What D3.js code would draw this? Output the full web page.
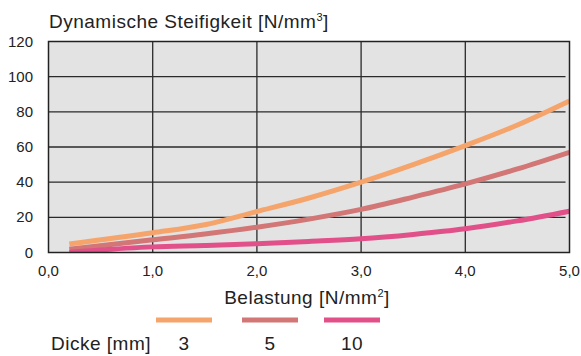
<!DOCTYPE html>
<html><head><meta charset="utf-8">
<script src="https://cdn.jsdelivr.net/npm/d3@7"></script>
<style>
html,body{margin:0;padding:0;background:#fff;}
text{font-family:"Liberation Sans",Arial,sans-serif;fill:#222;}
.big{font-size:19px;letter-spacing:0.5px;}
</style></head>
<body><svg id="c" width="581" height="356"></svg>
<script>
const xValues = [0.2, 1.0, 1.5, 2.0, 2.5, 3.0, 3.5, 4.0, 4.5, 5.0];
const series3 = [4.8, 11.2, 15.8, 23.3, 31.0, 40.0, 50.0, 60.8, 72.5, 86.2];
const series5 = [1.9, 7.2, 10.5, 14.4, 19.0, 24.5, 31.5, 39.0, 47.5, 57.0];
const series10 = [0.2, 3.2, 4.0, 5.0, 6.3, 7.8, 10.3, 13.5, 18.0, 23.5];
const seriesNames = ["3", "5", "10"];
const colors = ["#F5A46C", "#D27676", "#E2508A"];
const xTicks = [0, 1, 2, 3, 4, 5];
const yTicks = [0, 20, 40, 60, 80, 100, 120];

const svg = d3.select("#c");
const L = 48.5, R = 569.5, T = 41.5, B = 252.5;
const x = d3.scaleLinear().domain([0, 5]).range([L, R]);
const y = d3.scaleLinear().domain([0, 120]).range([B, T]);

svg.append("rect").attr("x", L).attr("y", T).attr("width", R - L).attr("height", B - T)
  .attr("fill", "#E3E3E3");

// grid
svg.append("g").selectAll("line").data(yTicks.slice(1, -1)).join("line")
  .attr("x1", L).attr("x2", R - 4).attr("y1", d => y(d)).attr("y2", d => y(d))
  .attr("stroke", "#2a2a2a").attr("stroke-width", 1.3);
svg.append("g").selectAll("line").data(xTicks.slice(1, -1)).join("line")
  .attr("x1", d => x(d)).attr("x2", d => x(d)).attr("y1", T).attr("y2", B)
  .attr("stroke", "#2a2a2a").attr("stroke-width", 1.3);

svg.append("clipPath").attr("id", "clip").append("rect")
  .attr("x", L).attr("y", T).attr("width", R - L).attr("height", B - T);

const all = [series3, series5, series10];
const line = d3.line().x((d, i) => x(xValues[i])).y(d => y(d)).curve(d3.curveMonotoneX);
svg.append("g").attr("clip-path", "url(#clip)").selectAll("path").data(all).join("path")
  .attr("d", d => line(d)).attr("fill", "none")
  .attr("stroke", (d, i) => colors[i]).attr("stroke-width", 5);

svg.append("rect").attr("x", L).attr("y", T).attr("width", R - L).attr("height", B - T)
  .attr("fill", "none").attr("stroke", "#222").attr("stroke-width", 1.5);

// axes labels
const fmt = d => d.toFixed(1).replace(".", ",");
svg.append("g").selectAll("text").data(xTicks).join("text")
  .attr("x", d => x(d)).attr("y", 276).attr("text-anchor", "middle")
  .attr("font-size", 15).text(fmt);
svg.append("g").selectAll("text").data(yTicks).join("text")
  .attr("x", 33).attr("y", d => y(d) + 5).attr("text-anchor", "end")
  .attr("font-size", 15).text(d => d);

svg.append("text").attr("class", "big").attr("x", 49).attr("y", 28)
  .html('Dynamische Steifigkeit [N/mm<tspan dy="-7" font-size="11">3</tspan><tspan dy="7">]</tspan>');
svg.append("text").attr("class", "big").attr("x", 307).attr("y", 304).attr("text-anchor", "middle")
  .html('Belastung [N/mm<tspan dy="-7" font-size="11">2</tspan><tspan dy="7">]</tspan>');

// legend
const legX = [184, 270, 352];
svg.append("g").selectAll("line").data(seriesNames).join("line")
  .attr("x1", (d, i) => legX[i] - 28).attr("x2", (d, i) => legX[i] + 28)
  .attr("y1", 320).attr("y2", 320).attr("stroke", (d, i) => colors[i]).attr("stroke-width", 5);
svg.append("g").selectAll("text").data(seriesNames).join("text")
  .attr("class", "big").attr("x", (d, i) => legX[i]).attr("y", 350).attr("text-anchor", "middle")
  .text(d => d);
svg.append("text").attr("class", "big").attr("x", 51).attr("y", 350).text("Dicke [mm]");
</script></body></html>
